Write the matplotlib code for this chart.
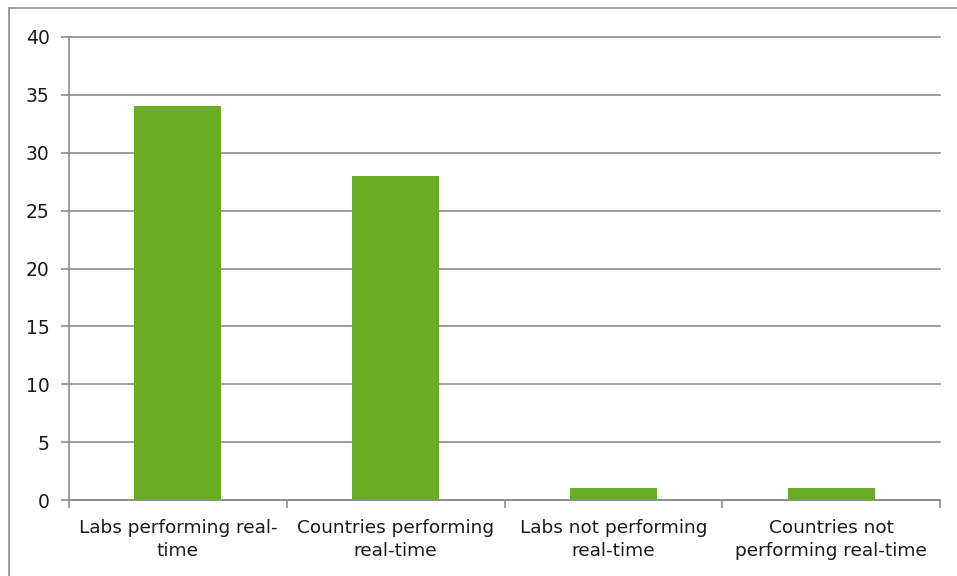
import matplotlib.pyplot as plt
from matplotlib.lines import Line2D

categories = ["Labs performing real-\ntime", "Countries performing\nreal-time",
              "Labs not performing\nreal-time", "Countries not\nperforming real-time"]
values = [34, 28, 1, 1]
yticks = [0, 5, 10, 15, 20, 25, 30, 35, 40]

W, H = 957, 576
fig = plt.figure(figsize=(W / 100, H / 100), dpi=100)
ax = fig.add_axes([69 / W, 1 - 500 / H, (940 - 69) / W, (500 - 37) / H])

# outer chart frame (only top/left visible in the reference)
frame_kw = dict(transform=fig.transFigure, color="#8c8c8c", linewidth=1.2)
fig.add_artist(Line2D([8.5 / W, 8.5 / W], [0, 1 - 7.5 / H], **frame_kw))
fig.add_artist(Line2D([8.5 / W, 1], [1 - 7.5 / H, 1 - 7.5 / H], **frame_kw))

x = range(len(categories))
ax.bar(x, values, width=0.4, color="#6aad24", zorder=3)

ax.set_xlim(-0.5, len(categories) - 0.5)
ax.set_ylim(0, 40)
ax.set_yticks(yticks)
ax.set_yticklabels([str(v) for v in yticks], fontsize=13.5, color="#1a1a1a")
ax.yaxis.grid(True, color="#8c8c8c", linewidth=1.2, zorder=0)
for gl in ax.get_ygridlines():
    gl.set_clip_on(False)

ax.set_xticks(list(x))
ax.set_xticklabels(categories, fontsize=13.3, color="#1a1a1a", linespacing=1.3)
ax.tick_params(axis="x", length=0, pad=14)
ax.set_xticks([i - 0.5 for i in range(len(categories) + 1)], minor=True)
ax.tick_params(axis="x", which="minor", length=6, width=1.2, color="#8c8c8c")
ax.tick_params(axis="y", length=6, width=1.2, color="#8c8c8c", pad=8)

for s in ["top", "right"]:
    ax.spines[s].set_visible(False)
for s in ["left", "bottom"]:
    ax.spines[s].set_color("#8c8c8c")
    ax.spines[s].set_linewidth(1.2)

fig.savefig("out.png", dpi=100)
